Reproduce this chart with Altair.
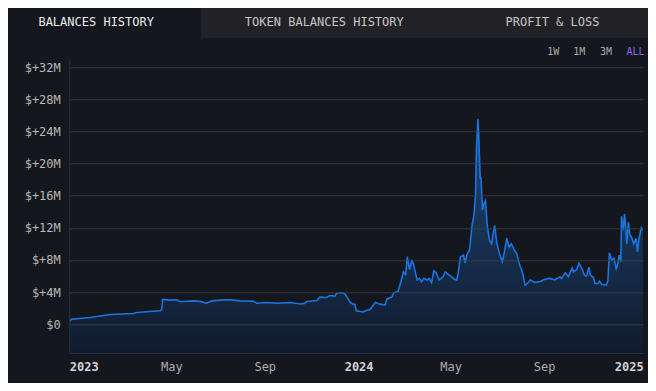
import altair as alt
import pandas as pd

# ---- data ----
day_offsets = [
    -15, -13, 12, 38, 69, 73, 104, 106, 107, 117, 126, 130, 148, 156, 165, 172,
    183, 196, 209, 226, 231, 244, 257, 275, 288, 294, 297, 310, 314, 323, 327,
    334, 336, 341, 343, 347, 349, 354, 358, 360, 362, 367, 371, 376, 380, 387,
    393, 400, 402, 409, 411, 417, 420, 424, 427, 429, 432, 435, 437, 439, 442,
    445, 448, 451, 455, 458, 461, 464, 467, 471, 476, 479, 483, 486, 491, 494,
    496, 499, 503, 505, 508, 511, 514, 517, 519, 520, 522, 523, 525, 526, 528,
    530, 532, 534, 537, 540, 542, 544, 547, 551, 554, 556, 560, 563, 566, 570,
    573, 577, 581, 584, 587, 591, 597, 604, 610, 617, 623, 630, 632, 637, 641,
    646, 648, 652, 655, 659, 662, 665, 668, 670, 674, 676, 680, 682, 685, 691,
    693, 695, 698, 701, 704, 705, 708, 710, 711, 713, 715, 718, 720, 722, 724,
    727, 730, 732, 734, 735, 737, 739,
]
balance_musd = [
    0.30, 0.62, 0.83, 1.20, 1.33, 1.45, 1.66, 1.83, 3.07, 2.99, 3.03, 2.78, 2.90, 2.83, 2.60, 2.90,
    2.99, 3.03, 2.90, 2.86, 2.60, 2.70, 2.60, 2.70, 2.50, 2.58, 2.83, 2.95, 3.36, 3.32, 3.57,
    3.49, 3.86, 3.90, 3.90, 3.78, 3.49, 2.70, 2.45, 2.49, 1.66, 1.58, 1.53, 1.74, 1.83, 2.70,
    2.49, 2.37, 3.11, 3.40, 3.90, 4.10, 5.07, 6.50, 6.20, 8.40, 6.80, 7.90, 7.55, 6.70, 5.50,
    5.70, 5.27, 5.70, 5.50, 5.70, 5.20, 6.64, 6.40, 5.50, 5.90, 6.50, 6.20, 5.98, 5.60, 5.50,
    6.30, 8.40, 8.60, 7.64, 8.80, 9.20, 12.10, 13.80, 16.30, 21.70, 25.60, 23.70, 18.10, 18.30, 14.20,
    15.00, 15.40, 12.50, 10.50, 10.00, 11.30, 12.30, 10.00, 8.60, 7.76, 8.60, 10.70, 9.60, 10.00, 9.20,
    8.80, 7.35, 6.30, 4.86, 5.07, 5.50, 5.20, 5.30, 5.60, 5.70, 5.50, 5.90, 5.70, 6.40, 5.90,
    7.00, 6.50, 6.80, 7.60, 6.90, 6.10, 5.98, 7.10, 6.10, 5.80, 5.07, 5.07, 5.35, 4.94, 4.86,
    5.40, 8.90, 7.97, 8.20, 6.90, 7.10, 8.60, 7.76, 13.45, 11.70, 13.70, 10.00, 12.70, 11.10, 10.90,
    10.00, 10.70, 9.00, 10.70, 11.10, 12.00, 11.70,
]
y_ticks_musd = [0, 4, 8, 12, 16, 20, 24, 28, 32]
tab_labels = ["BALANCES HISTORY", "TOKEN BALANCES HISTORY", "PROFIT & LOSS"]
range_labels = ["1W", "1M", "3M", "ALL"]

dates = pd.Timestamp("2023-01-01") + pd.to_timedelta(day_offsets, unit="D")
df = pd.DataFrame({"date": dates, "balance": [v * 1e6 for v in balance_musd]})

Y_MIN, Y_MAX = -3.6e6, 33e6
FONT = "DejaVu Sans Mono"
BG = "#15171f"

x_scale = alt.Scale(
    domain=[alt.DateTime(year=2022, month=12, date=16, hours=7),
            alt.DateTime(year=2025, month=1, date=9, hours=5)]
)
y_scale = alt.Scale(domain=[Y_MIN, Y_MAX], nice=False, zero=False)

x_axis = alt.Axis(
    values=[alt.DateTime(year=y, month=m, date=1)
            for y, m in [(2023, 1), (2023, 5), (2023, 9), (2024, 1), (2024, 5), (2024, 9), (2025, 1)]],
    tickCount=20,
    labelExpr="month(datum.value) == 0 ? timeFormat(datum.value, '%Y') : timeFormat(datum.value, '%b')",
    labelFontWeight=alt.expr("month(datum.value) == 0 ? 'bold' : 'normal'"),
    labelColor=alt.expr("month(datum.value) == 0 ? '#d2d2d2' : '#adadad'"),
    labelAlign=alt.expr("year(datum.value) == 2023 ? 'left' : (year(datum.value) == 2025 ? 'right' : 'center')"),
    labelOffset=alt.expr("year(datum.value) == 2023 ? -12 : (year(datum.value) == 2025 ? 6.5 : 0)"),
    labelFlush=False,
    labelOverlap=False,
    labelBound=False,
    ticks=False,
    tickSize=0,
    labelPadding=8,
    grid=False,
    domainColor="#223048",
    title=None,
    labelFont=FONT,
    labelFontSize=12,
)
y_axis = alt.Axis(
    values=[v * 1e6 for v in y_ticks_musd],
    tickCount=20,
    labelExpr="datum.value == 0 ? '$0' : '$+' + format(datum.value / 1e6, 'd') + 'M'",
    labelOverlap=False,
    labelBound=False,
    labelFlush=False,
    ticks=False,
    tickSize=0,
    labelPadding=9,
    gridColor="#3e3f44",
    gridOpacity=0.8,
    domainColor="#2c3140",
    labelColor="#b8b8b8",
    labelFont=FONT,
    labelFontSize=12,
    title=None,
    zindex=1,
)

gradient = alt.Gradient(
    gradient="linear",
    stops=[alt.GradientStop(color="#1d4677", offset=0),
           alt.GradientStop(color="#111b2d", offset=1)],
    x1=1, x2=1, y1=0, y2=1,
)

base = alt.Chart(df)
area = base.mark_area(fill=gradient, clip=True).encode(
    x=alt.X("date:T", scale=x_scale, axis=x_axis),
    y=alt.Y("balance:Q", scale=y_scale, axis=y_axis),
    y2=alt.datum(Y_MIN),
)
line = base.mark_line(color="#1a74e2", strokeWidth=1.6, clip=True).encode(
    x=alt.X("date:T", scale=x_scale, axis=x_axis),
    y=alt.Y("balance:Q", scale=y_scale, axis=y_axis),
)

# ---- UI chrome: tab bar and range buttons ----
one = pd.DataFrame({"k": [0]})
tab_bg = alt.Chart(one).mark_rect(color="#222226").encode(
    x=alt.value(131.7), x2=alt.value(600), y=alt.value(-70), y2=alt.value(-21.3)
)

def label(text, x, y, color, size=12, weight="normal"):
    return alt.Chart(one).mark_text(
        text=text, font=FONT, fontSize=size, color=color, fontWeight=weight,
        align="center", baseline="middle",
    ).encode(x=alt.value(x), y=alt.value(y))

tabs = [
    label(tab_labels[0], 26.9, -37.6, "#ececec"),
    label(tab_labels[1], 255.0, -37.6, "#c6c6c6"),
    label(tab_labels[2], 483.2, -37.6, "#c6c6c6"),
]
ranges = [
    label(range_labels[0], 483.9, -7.8, "#aaaaaa", size=10),
    label(range_labels[1], 510.0, -7.8, "#aaaaaa", size=10),
    label(range_labels[2], 536.6, -7.8, "#aaaaaa", size=10),
    label(range_labels[3], 566.2, -7.8, "#8b67e8", size=10),
]

chart = alt.layer(area, line, tab_bg, *tabs, *ranges).properties(
    width=573.7,
    height=293.7,
    padding={"left": 61.3, "top": 51.3, "right": 5, "bottom": 30},
    autosize=alt.AutoSizeParams(type="none"),
    background=BG,
).configure_view(stroke=None).configure_axis(labelFont=FONT)

chart.save("out.html", embed_options={"renderer": "svg", "actions": False})
